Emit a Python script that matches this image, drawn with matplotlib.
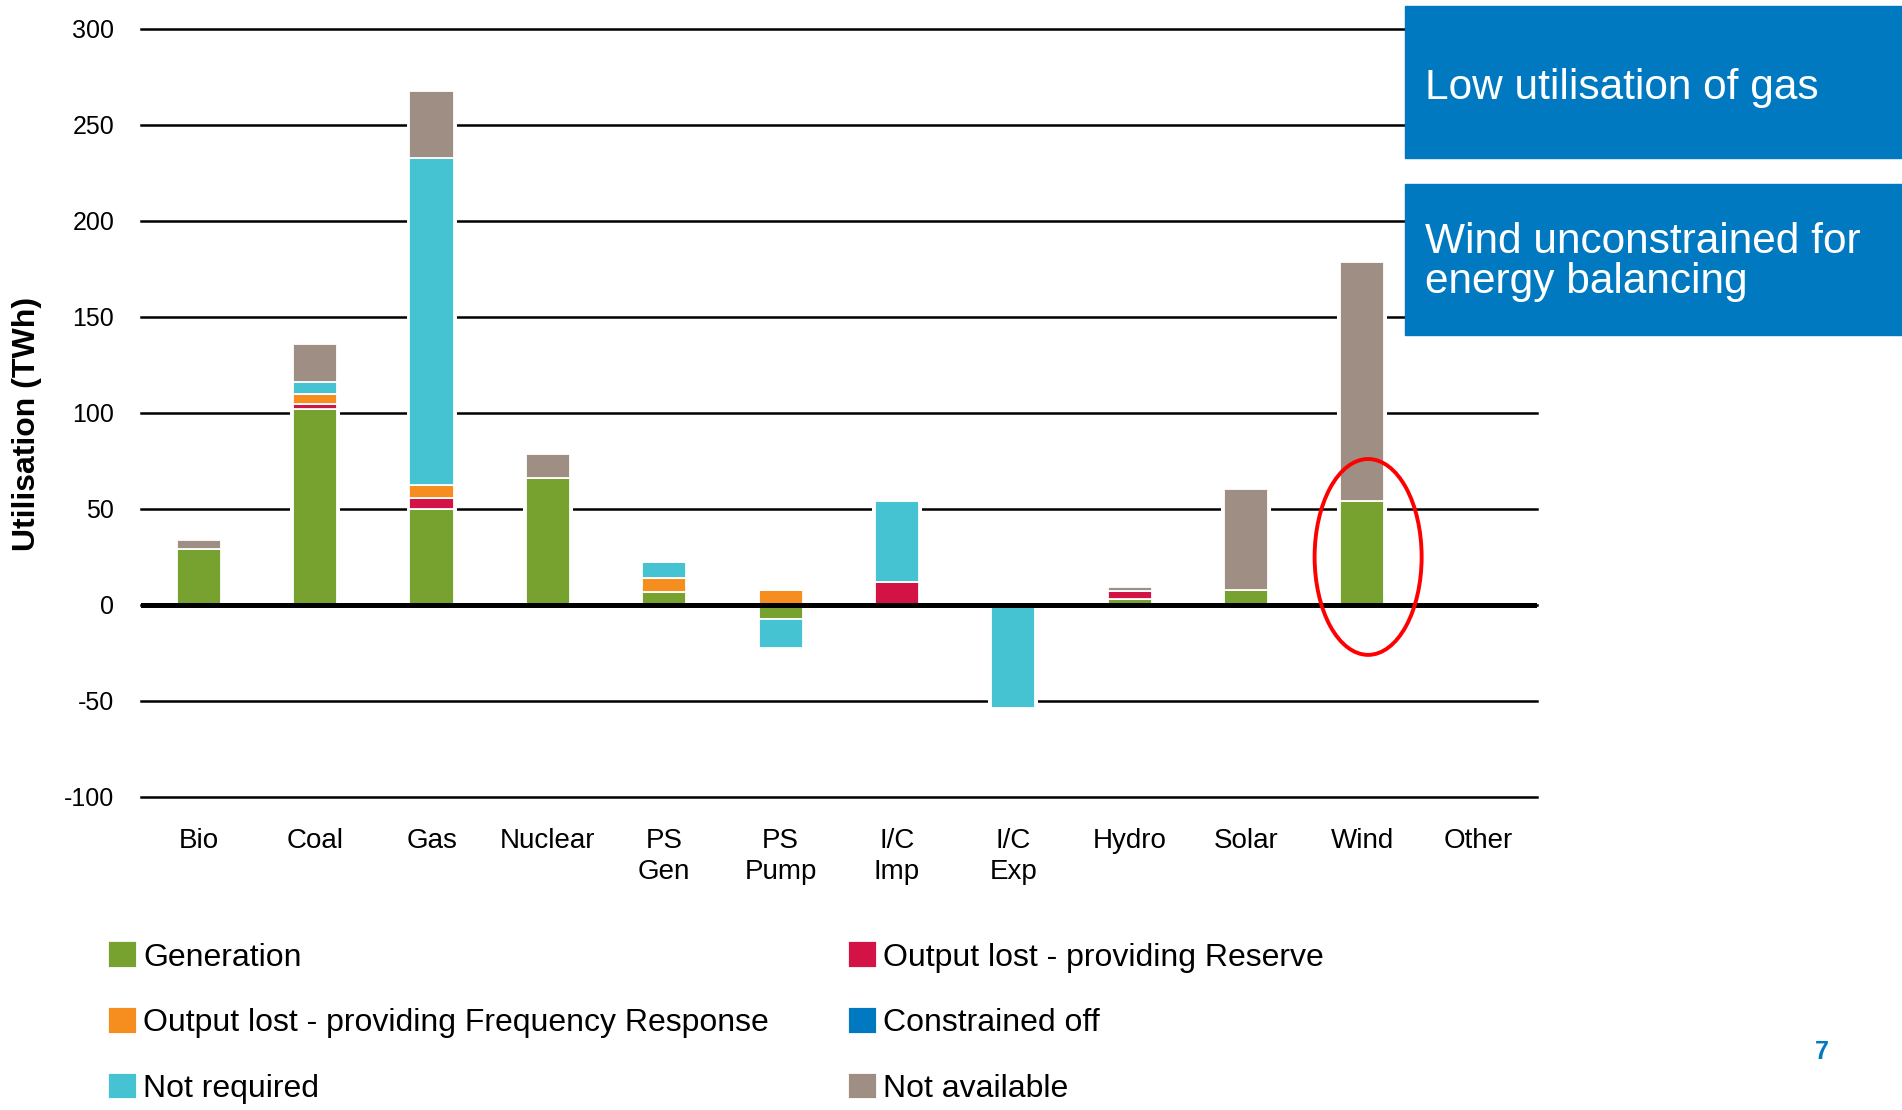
import matplotlib
matplotlib.use("Agg")
import matplotlib.pyplot as plt
import numpy as np
from matplotlib.patches import Ellipse, Rectangle

plt.rcParams["font.family"] = ["Liberation Sans", "DejaVu Sans"]
plt.rcParams["axes.unicode_minus"] = False

categories = ["Bio", "Coal", "Gas", "Nuclear", "PS\nGen", "PS\nPump",
              "I/C\nImp", "I/C\nExp", "Hydro", "Solar", "Wind", "Other"]

# TWh per category and state
generation = [29, 102, 50, 66, 6.5, -7.5, 0, 0, 3, 8, 54, 0]
reserve = [0, 2.5, 5.5, 0, 0, 0, 12, 0, 4.3, 0, 0, 0]
freq_response = [0, 5.5, 7, 0, 7.5, 8, 0, 0, 0, 0, 0, 0]
constrained_off = [0, 0, 0, 0, 0, 0, 0, 0, 0, 0, 0, 0]
not_required = [0, 6, 170, 0, 8.5, -15, 42, -53.5, 0, 0, 0, 0]
not_available = [5, 20, 35, 12.5, 0, 0, 0, 0, 2.1, 52.5, 124.5, 0]

series = [
    ("Generation", generation, "#78A22F"),
    ("Output lost - providing Reserve", reserve, "#D31245"),
    ("Output lost - providing Frequency Response", freq_response, "#F68D1F"),
    ("Constrained off", constrained_off, "#0079C1"),
    ("Not required", not_required, "#46C3D2"),
    ("Not available", not_available, "#9E8E84"),
]

fig = plt.figure(figsize=(19.02, 11.10), dpi=100)
ax = fig.add_axes([0.074, 0.282, 0.734, 0.692])

x = np.arange(len(categories))
width = 0.38

# white halo behind each stack so the gridlines break around bars
pos_total = np.zeros(len(x))
neg_total = np.zeros(len(x))
for _, vals, _ in series:
    v = np.array(vals, dtype=float)
    pos_total += np.where(v > 0, v, 0)
    neg_total += np.where(v < 0, v, 0)
ax.bar(x, pos_total, width=width + 0.05, color="white", zorder=2)
ax.bar(x, neg_total, width=width + 0.05, color="white", zorder=2)

pos = np.zeros(len(x))
neg = np.zeros(len(x))
handles = {}
for name, vals, col in series:
    v = np.array(vals, dtype=float)
    bottom = np.where(v >= 0, pos, neg)
    bars = ax.bar(x, v, width=width, bottom=bottom, color=col,
                  edgecolor="white", linewidth=1.3, zorder=3, label=name)
    handles[name] = bars
    pos += np.where(v > 0, v, 0)
    neg += np.where(v < 0, v, 0)

ax.set_xlim(-0.5, len(x) - 0.5)
ax.set_ylim(-100, 300)
ax.set_yticks(np.arange(-100, 301, 50))
ax.yaxis.grid(True, color="black", linewidth=1.8, zorder=1)
for gl in ax.get_ygridlines():
    gl.set_clip_on(False)
ax.set_axisbelow(True)
ax.axhline(0, color="black", linewidth=3.6, zorder=4)
for s in ax.spines.values():
    s.set_visible(False)
ax.tick_params(axis="both", length=0)
ax.tick_params(axis="y", pad=19, labelsize=18)
ax.tick_params(axis="x", pad=22.5, labelsize=20)
ax.set_xticks(x)
ax.set_xticklabels(categories, linespacing=1.24)

fig.text(0.014, 0.618, "Utilisation (TWh)", rotation=90, fontsize=23,
         fontweight="bold", ha="center", va="center")

# highlight wind
ax.add_patch(Ellipse((10.05, 25), 0.92, 102, fill=False, edgecolor="#FF0000",
                     linewidth=2.8, zorder=6))

order = ["Generation", "Output lost - providing Frequency Response", "Not required",
         "Output lost - providing Reserve", "Constrained off", "Not available"]
leg = fig.legend([handles[n] for n in order], order, ncol=2, loc="upper left",
                 bbox_to_anchor=(0.057, 0.152), frameon=False, fontsize=23,
                 handlelength=0.9, handleheight=0.9, handletextpad=0.19,
                 labelspacing=1.08, columnspacing=2.47, borderpad=0,
                 borderaxespad=0)

# call-out boxes
fig.patches.append(Rectangle((0.7387, 0.8577), 0.2613, 0.137,
                             transform=fig.transFigure, color="#0079C1"))
fig.patches.append(Rectangle((0.7387, 0.698), 0.2613, 0.136,
                             transform=fig.transFigure, color="#0079C1"))
fig.text(0.749, 0.921, "Low utilisation of gas", color="white", fontsize=30.5,
         ha="left", va="center")
fig.text(0.749, 0.764, "Wind unconstrained for\nenergy balancing", color="white",
         fontsize=30.5, ha="left", va="center", linespacing=1.0)

fig.text(0.958, 0.052, "7", color="#0079C1", fontsize=18, fontweight="bold",
         ha="center", va="center")

fig.savefig("out.png", dpi=100)
